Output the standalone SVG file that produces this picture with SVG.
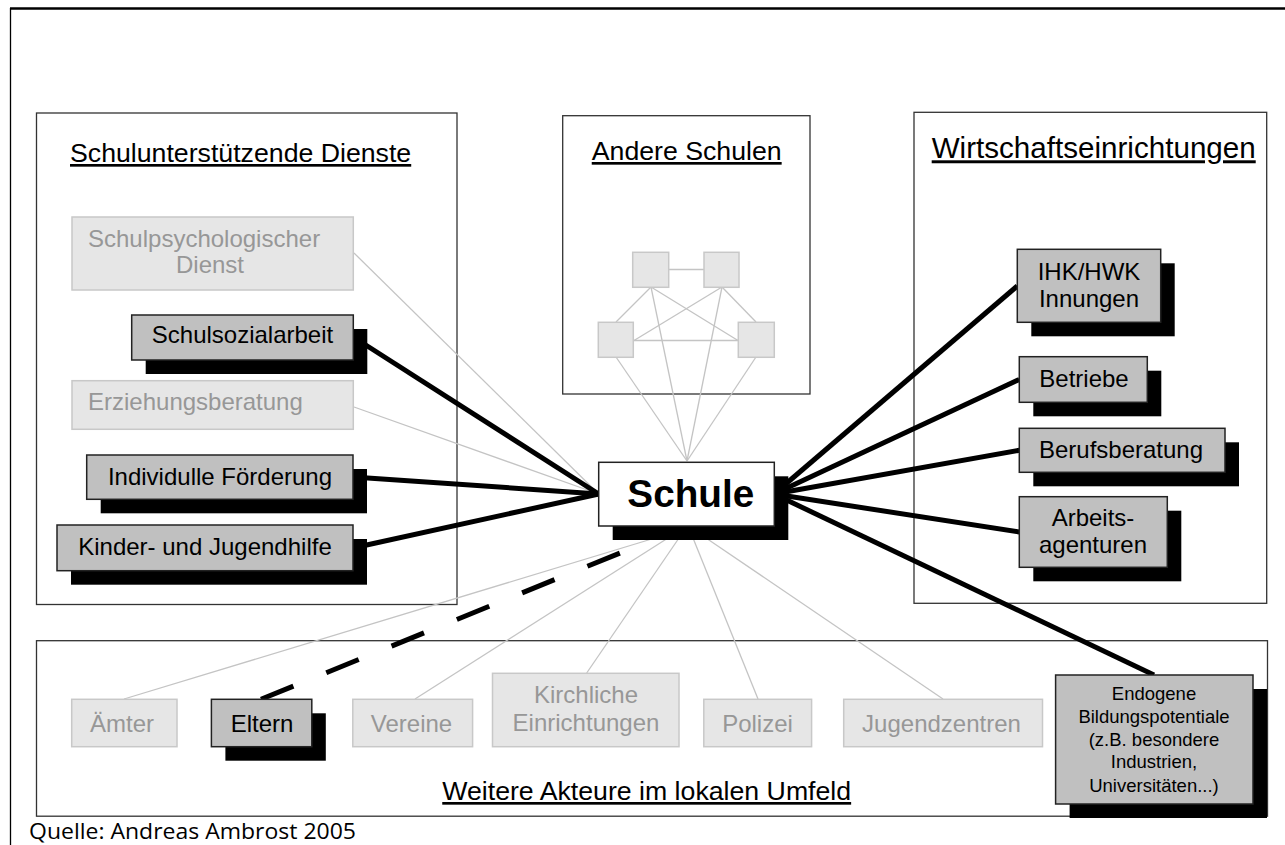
<svg xmlns="http://www.w3.org/2000/svg" width="1285" height="845" viewBox="0 0 1285 845">
<defs>
<style>
text{font-family:"Liberation Sans",Arial,Helvetica,sans-serif;}
.container{fill:#fff;stroke:#333;stroke-width:1.3}
.title{font-size:26.7px;fill:#000;text-decoration:underline}
.light rect{fill:#e6e6e6;stroke:#c8c8c8;stroke-width:1.5}
.light text{fill:#979797;font-size:24px}
.box{fill:#c0c0c0;stroke:#222;stroke-width:1.5}
.shadow{fill:#000}
.dark text{fill:#000;font-size:24px}
.mid{text-anchor:middle}
.thin{stroke:#c4c4c4;stroke-width:1.3;fill:none}
.thick{stroke:#000;stroke-width:5;fill:none}
.dash{stroke:#000;stroke-width:5;stroke-dasharray:35 35.5;fill:none}
</style>
</defs>
<rect width="1285" height="845" fill="#fff"/>
<g id="frame" stroke="#000" fill="none">
<line x1="10" y1="8.5" x2="1285" y2="8.5" stroke-width="2.5"/>
<line x1="10.5" y1="8" x2="10.5" y2="845" stroke-width="1.3"/>
</g>
<g id="containers">
<g id="c-dienste"><rect class="container" x="36.5" y="113" width="420.5" height="491.5"/>
<text class="title" x="70" y="162">Schulunterstützende Dienste</text></g>
<g id="c-andere"><rect class="container" x="562.7" y="115.7" width="247.3" height="278.3"/>
<text class="title mid" x="686.7" y="160">Andere Schulen</text></g>
<g id="c-wirtschaft"><rect class="container" x="914" y="112.3" width="352.7" height="491"/>
<text class="title" x="931.7" y="158.3" style="font-size:29.6px">Wirtschaftseinrichtungen</text></g>
<g id="c-weitere"><rect class="container" x="36.5" y="640.7" width="1231" height="175.5"/>
<text class="title mid" x="646.7" y="800">Weitere Akteure im lokalen Umfeld</text></g>
</g>
<g id="connectors">
<line class="thin" x1="354" y1="253" x2="598.7" y2="494"/>
<line class="thin" x1="354" y1="407" x2="598.7" y2="494"/>
<line class="thin" x1="669" y1="269.5" x2="704" y2="269.5"/>
<line class="thin" x1="651" y1="287" x2="616" y2="322"/>
<line class="thin" x1="651" y1="287" x2="738" y2="340.5"/>
<line class="thin" x1="722" y1="287" x2="634" y2="340.5"/>
<line class="thin" x1="722" y1="287" x2="756" y2="322"/>
<line class="thin" x1="634" y1="340.5" x2="738" y2="340.5"/>
<line class="thin" x1="651" y1="287" x2="687" y2="461"/>
<line class="thin" x1="722" y1="287" x2="687" y2="461"/>
<line class="thin" x1="616" y1="357" x2="687" y2="461"/>
<line class="thin" x1="756" y1="357" x2="687" y2="461"/>
<line class="thin" x1="124" y1="699" x2="655" y2="538"/>
<line class="thin" x1="415" y1="699" x2="668" y2="538"/>
<line class="thin" x1="586.7" y1="673" x2="679" y2="538"/>
<line class="thin" x1="758" y1="699" x2="693" y2="538"/>
<line class="thin" x1="943" y1="699" x2="706" y2="538"/>
<line class="thick" x1="354" y1="337.5" x2="598.7" y2="494"/>
<line class="thick" x1="353" y1="477" x2="598.7" y2="494"/>
<line class="thick" x1="353" y1="548" x2="598.7" y2="494"/>
<line class="thick" x1="774" y1="494" x2="1017.3" y2="286"/>
<line class="thick" x1="774" y1="494" x2="1019.3" y2="379.5"/>
<line class="thick" x1="774" y1="494" x2="1019.3" y2="450.3"/>
<line class="thick" x1="774" y1="494" x2="1019.3" y2="532"/>
<line class="thick" x1="774" y1="494" x2="1154" y2="675"/>
<line class="dash" x1="261" y1="699.3" x2="620" y2="553"/>
</g>
<g id="n-schulpsych" class="light"><rect x="72" y="217" width="281.3" height="73"/>
<text x="88" y="247">Schulpsychologischer</text><text x="176" y="273">Dienst</text></g>
<g id="n-schulsozial" class="dark"><rect class="shadow" x="145.7" y="329" width="221.6" height="45"/><rect class="box" x="131.7" y="315" width="221.6" height="45"/>
<text class="mid" x="242.5" y="343">Schulsozialarbeit</text></g>
<g id="n-erziehung" class="light"><rect x="72" y="380.7" width="281.3" height="48.6"/>
<text x="88" y="410">Erziehungsberatung</text></g>
<g id="n-foerderung" class="dark"><rect class="shadow" x="100.7" y="469" width="266.3" height="44.3"/><rect class="box" x="86.7" y="455" width="266.3" height="44.3"/>
<text class="mid" x="220" y="485">Individulle Förderung</text></g>
<g id="n-jugendhilfe" class="dark"><rect class="shadow" x="71" y="539" width="296" height="45.7"/><rect class="box" x="57" y="525" width="296" height="45.7"/>
<text class="mid" x="205" y="555">Kinder- und Jugendhilfe</text></g>
<g id="n-schulen" class="light">
<rect x="632.7" y="252.3" width="36" height="35"/>
<rect x="704" y="252.3" width="35" height="35"/>
<rect x="598.3" y="322.3" width="35" height="35"/>
<rect x="738.3" y="322.3" width="36" height="35"/>
</g>
<g id="n-schule"><rect class="shadow" x="612.7" y="476.3" width="175.6" height="63.7"/><rect x="598.7" y="462.3" width="175.6" height="63.7" fill="#fff" stroke="#222" stroke-width="1.5"/>
<text class="mid" x="690.8" y="506.7" style="font-size:38.7px;font-weight:bold">Schule</text></g>
<g id="n-ihk" class="dark"><rect class="shadow" x="1031.3" y="263.3" width="143.4" height="73"/><rect class="box" x="1017.3" y="249.3" width="143.4" height="73"/>
<text class="mid" x="1089" y="280">IHK/HWK</text><text class="mid" x="1089" y="306.7">Innungen</text></g>
<g id="n-betriebe" class="dark"><rect class="shadow" x="1033.3" y="370.7" width="128" height="45.6"/><rect class="box" x="1019.3" y="356.7" width="128" height="45.6"/>
<text class="mid" x="1084" y="386.7">Betriebe</text></g>
<g id="n-berufsberatung" class="dark"><rect class="shadow" x="1033.3" y="442.3" width="205.7" height="44"/><rect class="box" x="1019.3" y="428.3" width="205.7" height="44"/>
<text class="mid" x="1121" y="458.3">Berufsberatung</text></g>
<g id="n-arbeitsagenturen" class="dark"><rect class="shadow" x="1033.3" y="510.7" width="148" height="70.6"/><rect class="box" x="1019.3" y="496.7" width="148" height="70.6"/>
<text class="mid" x="1093" y="525.7">Arbeits-</text><text class="mid" x="1093" y="552.7">agenturen</text></g>
<g id="n-aemter" class="light"><rect x="71.7" y="699.3" width="105.3" height="47.4"/>
<text class="mid" x="122" y="731.7">Ämter</text></g>
<g id="n-eltern" class="dark"><rect class="shadow" x="225.4" y="713.3" width="100.4" height="47.4"/><rect class="box" x="211.4" y="699.3" width="100.4" height="47.4"/>
<text class="mid" x="262" y="731.7">Eltern</text></g>
<g id="n-vereine" class="light"><rect x="352.8" y="699.3" width="119.8" height="47.4"/>
<text class="mid" x="411.5" y="731.7">Vereine</text></g>
<g id="n-kirchliche" class="light"><rect x="492.5" y="673.3" width="186.5" height="73.4"/>
<text class="mid" x="586" y="703.3">Kirchliche</text><text class="mid" x="586" y="730.7">Einrichtungen</text></g>
<g id="n-polizei" class="light"><rect x="703.8" y="699.3" width="107.8" height="47.4"/>
<text class="mid" x="757.5" y="731.7">Polizei</text></g>
<g id="n-jugendzentren" class="light"><rect x="843.7" y="699.3" width="198.8" height="47.4"/>
<text class="mid" x="941.5" y="731.7">Jugendzentren</text></g>
<g id="n-endogene" class="dark"><rect class="shadow" x="1069.6" y="689" width="197.4" height="129"/><rect class="box" x="1055.6" y="675" width="197.4" height="129"/>
<text class="mid" x="1154" y="700" style="font-size:18.5px">Endogene</text>
<text class="mid" x="1154" y="722.7" style="font-size:18.5px">Bildungspotentiale</text>
<text class="mid" x="1154" y="745.7" style="font-size:18.5px">(z.B. besondere</text>
<text class="mid" x="1154" y="768.3" style="font-size:18.5px">Industrien,</text>
<text class="mid" x="1154" y="792.3" style="font-size:18.5px">Universitäten...)</text></g>
<text id="quelle" x="29" y="839" style="font-family:'Open Sans','Liberation Sans',sans-serif;font-size:22px" textLength="327" lengthAdjust="spacingAndGlyphs">Quelle: Andreas Ambrost 2005</text>
</svg>
